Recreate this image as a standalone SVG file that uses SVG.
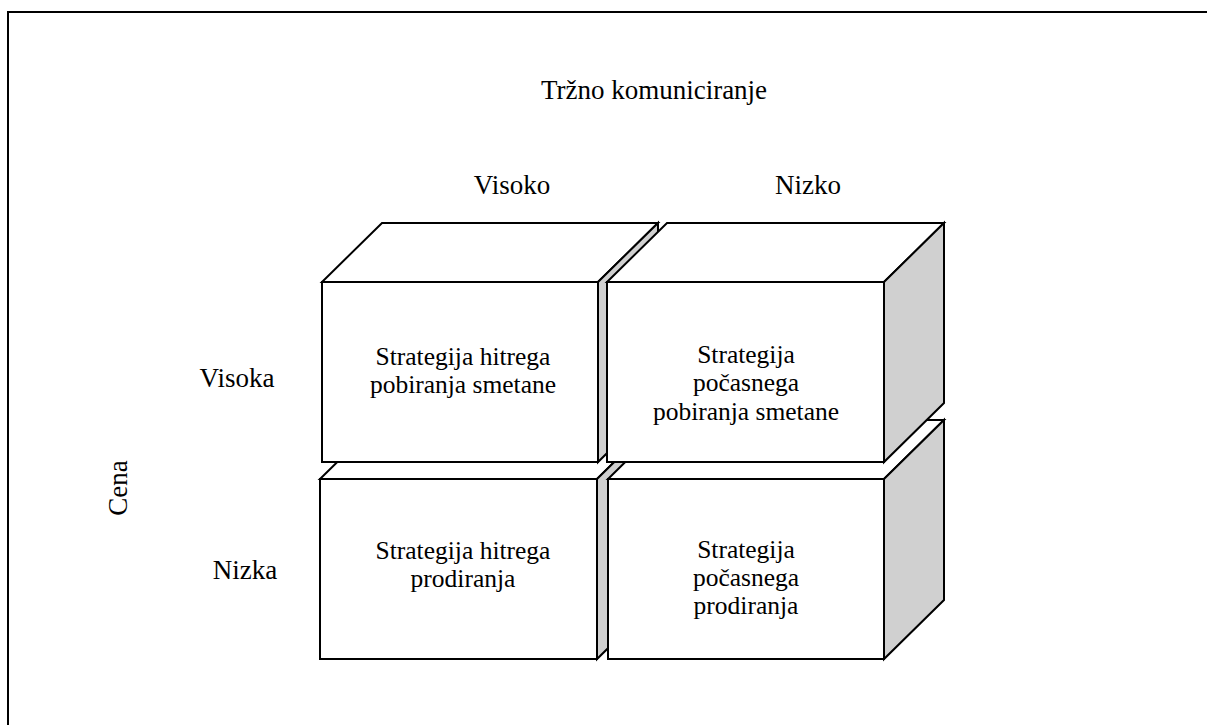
<svg xmlns="http://www.w3.org/2000/svg" width="1207" height="725" viewBox="0 0 1207 725">
<style>
.f{fill:#ffffff;stroke:#000;stroke-width:2;stroke-linejoin:miter}
.s{fill:#d0d0d0;stroke:#000;stroke-width:2}
.t{font-family:'Liberation Serif','Times New Roman',serif;font-size:27px;fill:#000;text-anchor:middle}
.b{font-family:'Liberation Serif','Times New Roman',serif;font-size:25.5px;fill:#000;text-anchor:middle}
</style>
<rect x="0" y="0" width="1207" height="725" fill="#fff"/>
<rect x="8" y="12" width="1220" height="740" fill="none" stroke="#000" stroke-width="2"/>
<g id="labels">
<text class="t" x="654" y="99">Tržno komuniciranje</text>
<text class="t" x="512" y="194">Visoko</text>
<text class="t" x="808" y="194">Nizko</text>
<text class="t" x="237" y="387">Visoka</text>
<text class="t" x="245" y="579">Nizka</text>
<text class="t" transform="translate(127,488) rotate(-90)">Cena</text>
</g>
<g id="box-lower-left">
<polygon class="f" points="320,479 597,479 657,420 380,420"/>
<polygon class="s" points="597,479 657,420 657,600 597,659"/>
<rect class="f" x="320" y="479" width="277" height="180"/>
<text class="b" x="463" y="559">Strategija hitrega</text>
<text class="b" x="463" y="587">prodiranja</text>
</g>
<g id="box-lower-right">
<polygon class="f" points="608,479 884,479 944,420 668,420"/>
<polygon class="s" points="884,479 944,420 944,600 884,659"/>
<rect class="f" x="608" y="479" width="276" height="180"/>
<text class="b" x="746" y="558">Strategija</text>
<text class="b" x="746" y="586">počasnega</text>
<text class="b" x="746" y="614">prodiranja</text>
</g>
<g id="box-upper-left">
<polygon class="f" points="322,282 598,282 658,223 382,223"/>
<polygon class="s" points="598,282 658,223 658,403 598,462"/>
<rect class="f" x="322" y="282" width="276" height="180"/>
<text class="b" x="463" y="365">Strategija hitrega</text>
<text class="b" x="463" y="393">pobiranja smetane</text>
</g>
<g id="box-upper-right">
<polygon class="f" points="607,282 884,282 944,223 667,223"/>
<polygon class="s" points="884,282 944,223 944,403 884,462"/>
<rect class="f" x="607" y="282" width="277" height="180"/>
<text class="b" x="746" y="363">Strategija</text>
<text class="b" x="746" y="391">počasnega</text>
<text class="b" x="746" y="420">pobiranja smetane</text>
</g>
<g id="connectors"/>
</svg>
